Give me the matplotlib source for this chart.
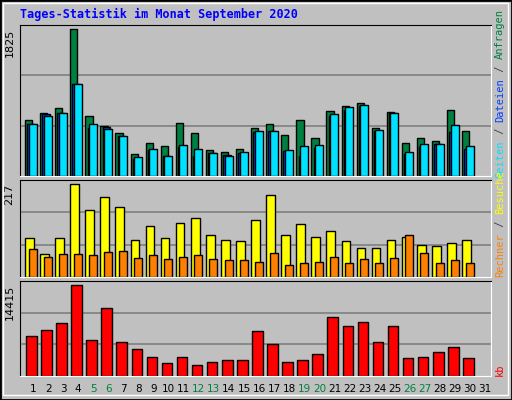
import numpy as np
import matplotlib.pyplot as plt
from matplotlib.patches import Rectangle

days = np.arange(1, 31)
hits = [698, 785, 846, 1825, 747, 623, 537, 277, 413, 376, 661, 537, 326, 301, 339,
        599, 648, 512, 698, 475, 809, 871, 908, 599, 797, 413, 475, 438, 822, 562]
files = [648, 772, 776, 1136, 599, 603, 500, 215, 326, 252, 363, 252, 289, 264, 289,
         549, 562, 314, 252, 351, 747, 822, 871, 562, 785, 277, 363, 400, 549, 339]
pages = [648, 747, 785, 1144, 648, 586, 500, 239, 339, 252, 388, 339, 289, 252, 301,
         562, 562, 326, 376, 388, 772, 859, 884, 574, 785, 301, 400, 400, 636, 376]
visits = [90, 54, 92, 217, 156, 186, 163, 87, 120, 92, 125, 137, 97, 87, 85,
          132, 191, 97, 123, 94, 108, 83, 68, 68, 87, 94, 75, 73, 80, 87]
hosts = [66, 47, 54, 54, 52, 59, 61, 45, 52, 42, 47, 52, 42, 40, 40,
         35, 57, 28, 33, 35, 47, 33, 42, 33, 45, 97, 57, 33, 40, 33]
kbytes = [6365, 7312, 8418, 14415, 5734, 10784, 5418, 4313, 3051, 2104, 3051, 1788, 2262, 2577, 2577,
          7154, 5102, 2262, 2577, 3525, 9365, 7943, 8575, 5418, 7943, 2893, 3051, 3840, 4629, 2893]
weekend = [5, 6, 12, 13, 19, 20, 26, 27]

BG = "#C0C0C0"
W, H = 512, 400
fig = plt.figure(figsize=(5.12, 4.0), dpi=100, facecolor=BG)
mono = "DejaVu Sans Mono"

# outer frame
fig.patches.append(Rectangle((0, 0), 1, 1, transform=fig.transFigure, fill=False,
                             edgecolor="black", lw=2))
fig.patches.append(Rectangle((3 / W, 5 / H), 505 / W, 392 / H, transform=fig.transFigure,
                             fill=False, edgecolor="white", lw=1))

fig.text(20 / W, 1 - 14 / H, "Tages-Statistik im Monat September 2020", color="#0000FF",
         fontsize=8.5, fontweight="bold", family=mono, va="center")

XMIN, XMAX = 0.137, 31.39


def panel(top, bottom, vmax, frac):
    ax = fig.add_axes([20 / W, 1 - bottom / H, 471 / W, (bottom - top) / H])
    ax.set_facecolor(BG)
    ax.set_xlim(XMIN, XMAX)
    ymax = vmax * frac
    ax.set_ylim(0, ymax)
    for g in (ymax / 3, 2 * ymax / 3):
        ax.axhline(g, color="#808080", lw=1.2, zorder=0)
    ax.set_xticks([])
    ax.set_yticks([])
    for s in ("left", "top"):
        ax.spines[s].set_color("black")
    for s in ("right", "bottom"):
        ax.spines[s].set_color("white")
    ax.text(-0.012, 1 / frac, str(vmax), transform=ax.transAxes, rotation=90,
            ha="right", va="top", fontsize=8, family="DejaVu Sans")
    return ax


def bars(ax, vals, off, width, color):
    ax.bar(days + off, vals, width=width, align="edge", color=color,
           edgecolor="black", lw=1, zorder=2)


ax1 = panel(25, 176, 1825, 151 / 147)
bars(ax1, hits, -0.53, 0.48, "#008040")
bars(ax1, files, -0.38, 0.5, "#0040FF")
bars(ax1, pages, -0.29, 0.53, "#00E0FF")

ax2 = panel(180, 277, 217, 96 / 92)
bars(ax2, visits, -0.53, 0.58, "#FFFF00")
bars(ax2, hosts, -0.29, 0.53, "#FF8000")

ax3 = panel(281, 376, 14415, 95 / 91)
bars(ax3, kbytes, -0.46, 0.7, "#FF0000")

renderer = fig.canvas.get_renderer()


def side_label(ybottom, parts):
    y = ybottom
    for txt, col in parts:
        t = fig.text(500 / W, 1 - y / H, txt, color=col, rotation=90, ha="center",
                     va="bottom", fontsize=7.5, family=mono)
        y -= t.get_window_extent(renderer).height


side_label(178, [("Seiten", "#00E0FF"), (" / ", "#404040"), ("Dateien", "#0040FF"),
                 (" / ", "#404040"), ("Anfragen", "#008040")])
side_label(277, [("Rechner", "#FF8000"), (" / ", "#404040"), ("Besuche", "#FFFF00")])
side_label(376, [("kb", "#FF0000")])

for d in range(1, 32):
    px = 20 + (d - XMIN) / (XMAX - XMIN) * 471
    col = "#008040" if d in weekend else "black"
    fig.text(px / W, 1 - 389 / H, str(d), color=col, ha="center", va="center",
             fontsize=7.5, family="DejaVu Sans")

fig.savefig("out.png", dpi=100, facecolor=BG)
